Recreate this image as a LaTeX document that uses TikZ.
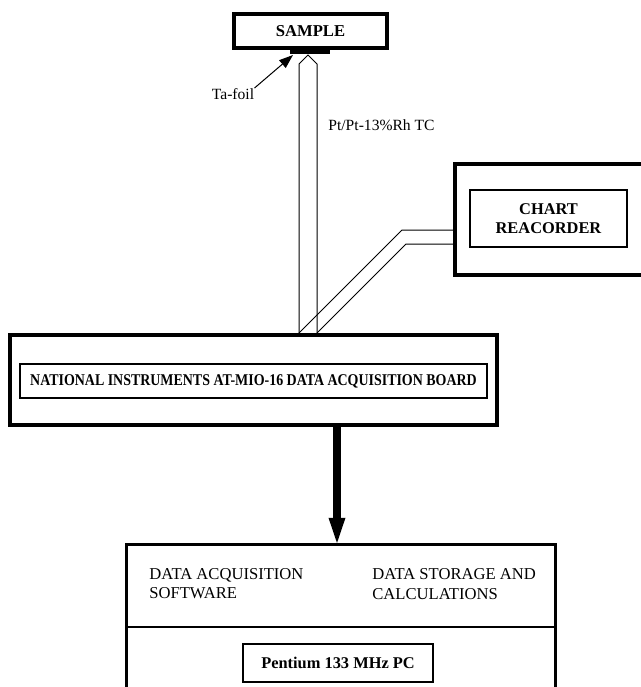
\documentclass[tikz,border=0pt]{standalone}
\usepackage{fontspec}
\setmainfont{Liberation Serif}
\usetikzlibrary{arrows.meta,positioning}

\begin{document}
\begin{tikzpicture}[x=0.5pt, y=-0.5pt,
  heavy box/.style={draw, line width=1.75pt, inner sep=0pt},
  light box/.style={draw, line width=0.6pt, inner sep=0pt, font=\bfseries\fontsize{8.2}{9.6}\selectfont},
  wire/.style={line width=0.5pt},
  note/.style={inner sep=0pt, font=\fontsize{7.8}{9}\selectfont},
  plain text/.style={inner sep=0pt, anchor=west, align=left, font=\fontsize{8.3}{9.6}\selectfont}]
\useasboundingbox (0,0) rectangle (641,687);
\node[heavy box, line width=2pt, minimum width=76.5pt, minimum height=17pt, font=\bfseries\fontsize{8.3}{9.6}\selectfont] (sample) at (310.5,31) {SAMPLE};
\node[heavy box, minimum width=94pt, minimum height=55.5pt] (chart) at (549,219.5) {};
\node[light box, minimum width=78.5pt, minimum height=28.5pt, align=center] (recorder) at (548.5,218.5) {CHART\\REACORDER};
\node[heavy box, minimum width=243.5pt, minimum height=45pt] (board) at (253.5,380) {};
\node[light box, minimum width=233.5pt, minimum height=17pt] (daq) at (253.5,381) {\scalebox{0.85}[1]{NATIONAL INSTRUMENTS AT-MIO-16 DATA ACQUISITION BOARD}};
\node[heavy box, line width=1.5pt, minimum width=214.5pt, minimum height=87.75pt] (pc) at (341,632) {};
\node[light box, minimum width=95pt, minimum height=19pt] (cpu) at (338,663) {Pentium 133 MHz PC};
\node[plain text] (software) at (149,584) {DATA ACQUISITION\\SOFTWARE};
\node[plain text] (storage) at (372,584) {DATA STORAGE AND\\CALCULATIONS};
\node[note] (foil) at (233,94) {Ta-foil};
\node[note, anchor=west] (tc) at (328,125) {Pt/Pt-13\%Rh TC};
% divider of the PC box
\coordinate (div) at (0,627);
\draw[line width=1pt] (pc.west |- div) -- (pc.east |- div);
% tantalum foil under the sample
\fill (290,50) rectangle (330,54);
\coordinate (foiltip) at (293,55);
\draw[wire, -{Triangle[length=7pt,width=5pt]}] (foil.north east) -- (foiltip);
% thermocouple legs
\coordinate (tcL) at (299,333);
\coordinate (tcR) at (317,333);
\coordinate (apex) at (308,55);
\draw[wire] (tcL) -- (299,64) -- (apex) -- (317,64) -- (tcR);
\draw[wire] (tcL) -- ++(103,-103) coordinate (k1) -- (k1 -| chart.west);
\draw[wire] (tcR) -- ++(89,-89) coordinate (k2) -- (k2 -| chart.west);
% data flow to the PC
\coordinate (flow) at (337,0);
\draw[line width=4pt, shorten >=-2.5pt, -{Triangle[length=15pt,width=7pt]}] (flow |- board.south) -- (flow |- pc.north);
\end{tikzpicture}
\end{document}
